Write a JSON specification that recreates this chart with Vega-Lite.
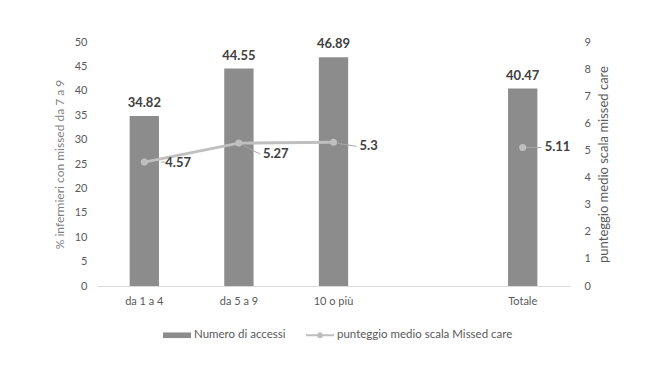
{
  "$schema": "https://vega.github.io/schema/vega-lite/v6.json",
  "autosize": {"type": "none"},
  "padding": {"left": 97, "top": 42, "right": 99, "bottom": 79},
  "width": 473,
  "height": 244,
  "config": {
    "font": "Lato",
    "view": {"stroke": null},
    "axis": {"grid": false, "ticks": false, "labelColor": "#595959", "labelFontSize": 11, "labelFont": "Lato", "titleFont": "Lato", "titleFontWeight": "normal"}
  },
  "data": {
    "values": [
      {"cat": "da 1 a 4", "serie": "Numero di accessi", "v": 34.82},
      {"cat": "da 5 a 9", "serie": "Numero di accessi", "v": 44.55},
      {"cat": "10 o più", "serie": "Numero di accessi", "v": 46.89},
      {"cat": "Totale", "serie": "Numero di accessi", "v": 40.47},
      {"cat": "da 1 a 4", "serie": "punteggio medio scala Missed care", "v": 4.57},
      {"cat": "da 5 a 9", "serie": "punteggio medio scala Missed care", "v": 5.27},
      {"cat": "10 o più", "serie": "punteggio medio scala Missed care", "v": 5.3},
      {"cat": "Totale", "serie": "punteggio medio scala Missed care", "v": 5.11}
    ]
  },
  "encoding": {
    "x": {
      "field": "cat", "type": "nominal", "title": null,
      "scale": {"domain": ["da 1 a 4", "da 5 a 9", "10 o più", " ", "Totale"], "paddingInner": 0, "paddingOuter": 0},
      "axis": {"labelAngle": 0, "domainColor": "#d9d9d9", "domainWidth": 1, "labelPadding": 9}
    }
  },
  "layer": [
    {
      "transform": [{"filter": "datum.serie === 'Numero di accessi'"}],
      "encoding": {
        "y": {
          "field": "v", "type": "quantitative", "scale": {"domain": [0, 50], "nice": false},
          "axis": {"orient": "left", "values": [0, 5, 10, 15, 20, 25, 30, 35, 40, 45, 50], "domain": false, "labelPadding": 10,
            "title": "% infermieri con missed da  7 a 9", "titleColor": "#7f7f7f", "titleFontSize": 12, "titlePadding": 8}
        }
      },
      "layer": [
        {
          "mark": {"type": "bar", "width": {"band": 0.31}},
          "encoding": {
            "color": {"field": "serie", "type": "nominal",
              "scale": {"domain": ["Numero di accessi", "punteggio medio scala Missed care"], "range": ["#8c8c8c", "#bfbfbf"]},
              "legend": {
                "orient": "none", "legendX": 66, "legendY": 279, "direction": "horizontal", "title": null, "symbolSize": 784,
                "labelFontSize": 11.5, "labelColor": "#595959", "labelFont": "Lato", "labelLimit": 400, "columnPadding": 20, "labelOffset": 3,
                "encode": {"symbols": {"update": {
                  "shape": {"signal": "datum.value === 'Numero di accessi' ? 'M-1,-0.2H1V0.2H-1Z' : 'M-1,-0.08H1V0.08H-1Z M-0.22,0A0.22,0.22 0 1,1 0.22,0A0.22,0.22 0 1,1 -0.22,0Z'"},
                  "fill": {"signal": "datum.value === 'Numero di accessi' ? '#8c8c8c' : '#bfbfbf'"},
                  "stroke": {"value": "transparent"},
                  "strokeWidth": {"value": 0},
                  "opacity": {"value": 1}
                }}}
              }
            }
          }
        },
        {
          "mark": {"type": "text", "dy": -13, "baseline": "middle", "fontWeight": "bold", "fontSize": 13, "color": "#404040"},
          "encoding": {"text": {"field": "v", "type": "nominal"}}
        }
      ]
    },
    {
      "transform": [{"filter": "datum.serie === 'punteggio medio scala Missed care'"}],
      "encoding": {
        "y": {
          "field": "v", "type": "quantitative", "scale": {"domain": [0, 9], "nice": false},
          "axis": {"orient": "right", "values": [0, 1, 2, 3, 4, 5, 6, 7, 8, 9], "domain": false, "labelPadding": 14,
            "title": "punteggio medio scala missed care", "titleColor": "#595959", "titleFontSize": 13, "titleAngle": 270, "titlePadding": 20}
        }
      },
      "layer": [
        {
          "transform": [{"filter": "datum.cat !== 'Totale'"}],
          "mark": {"type": "line", "strokeWidth": 3},
          "encoding": {"color": {"field": "serie", "type": "nominal"}}
        },
        {
          "transform": [{"filter": "datum.cat === 'da 1 a 4'"}],
          "mark": {"type": "rule", "xOffset": 17, "x2Offset": 21, "color": "#a6a6a6", "strokeWidth": 1},
          "encoding": {"x2": {"field": "cat"}, "y2": {"field": "v"}}
        },
        {
          "transform": [{"filter": "datum.cat === 'da 5 a 9'"}],
          "mark": {"type": "rule", "xOffset": 4, "x2Offset": 21, "yOffset": 2, "y2Offset": 11, "color": "#a6a6a6", "strokeWidth": 1},
          "encoding": {"x2": {"field": "cat"}, "y2": {"field": "v"}}
        },
        {
          "transform": [{"filter": "datum.cat === '10 o più'"}],
          "mark": {"type": "rule", "xOffset": 4, "x2Offset": 23, "yOffset": 1, "y2Offset": 4, "color": "#a6a6a6", "strokeWidth": 1},
          "encoding": {"x2": {"field": "cat"}, "y2": {"field": "v"}}
        },
        {
          "transform": [{"filter": "datum.cat === 'Totale'"}],
          "mark": {"type": "rule", "xOffset": 4, "x2Offset": 19, "color": "#a6a6a6", "strokeWidth": 1},
          "encoding": {"x2": {"field": "cat"}, "y2": {"field": "v"}}
        },
        {
          "mark": {"type": "point", "filled": true, "size": 50, "opacity": 1},
          "encoding": {"color": {"field": "serie", "type": "nominal"}}
        },
        {
          "transform": [{"filter": "datum.cat === 'da 1 a 4'"}],
          "mark": {"type": "text", "dx": 21, "dy": 1, "align": "left", "baseline": "middle", "fontWeight": "bold", "fontSize": 13, "color": "#404040"},
          "encoding": {"text": {"field": "v", "type": "nominal"}}
        },
        {
          "transform": [{"filter": "datum.cat === 'da 5 a 9'"}],
          "mark": {"type": "text", "dx": 24, "dy": 11, "align": "left", "baseline": "middle", "fontWeight": "bold", "fontSize": 13, "color": "#404040"},
          "encoding": {"text": {"field": "v", "type": "nominal"}}
        },
        {
          "transform": [{"filter": "datum.cat === '10 o più'"}],
          "mark": {"type": "text", "dx": 26, "dy": 4, "align": "left", "baseline": "middle", "fontWeight": "bold", "fontSize": 13, "color": "#404040"},
          "encoding": {"text": {"field": "v", "type": "nominal"}}
        },
        {
          "transform": [{"filter": "datum.cat === 'Totale'"}],
          "mark": {"type": "text", "dx": 22, "dy": 0, "align": "left", "baseline": "middle", "fontWeight": "bold", "fontSize": 13, "color": "#404040"},
          "encoding": {"text": {"field": "v", "type": "nominal"}}
        }
      ]
    }
  ],
  "resolve": {"scale": {"y": "independent"}}
}
